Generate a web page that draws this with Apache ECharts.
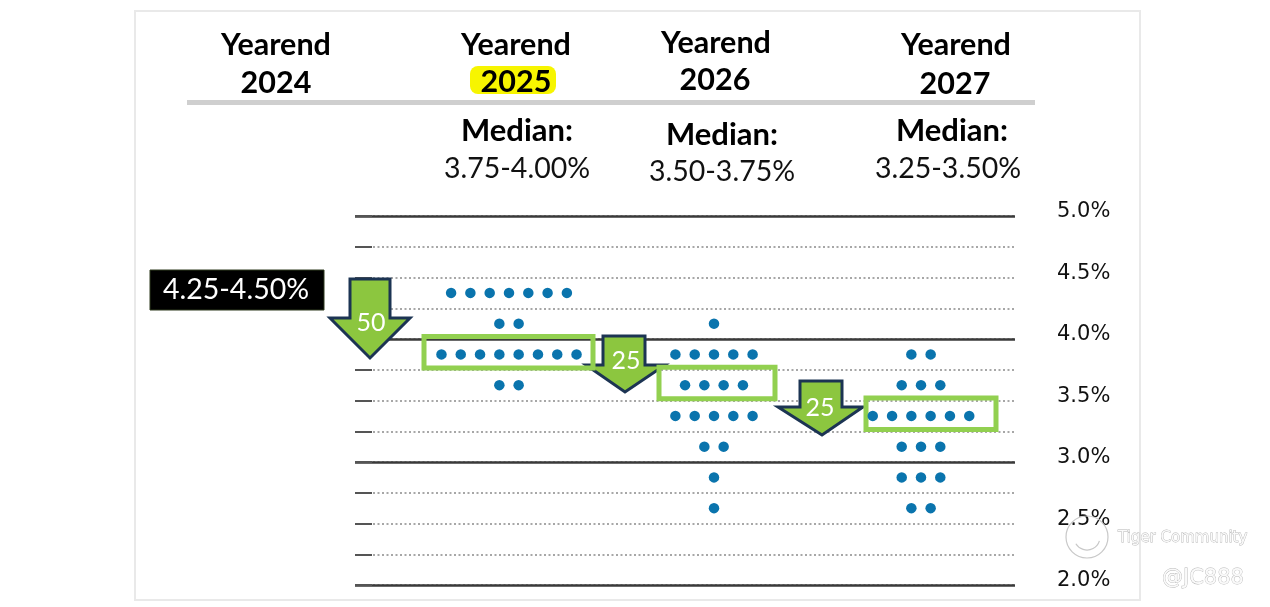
<!DOCTYPE html>
<html>
<head>
<meta charset="utf-8">
<script src="https://cdn.jsdelivr.net/npm/echarts@6/dist/echarts.min.js"></script>
<style>
html,body{margin:0;padding:0;background:#fff;}
#chart{width:1270px;height:607px;}
</style>
</head>
<body>
<div id="chart"></div>
<script>
// ---- data ----
const years = ['2025', '2026', '2027'];
const levels = [4.375, 4.125, 3.875, 3.625, 3.375, 3.125, 2.875, 2.625];
const counts2025 = [7, 2, 8, 2, 0, 0, 0, 0];
const counts2026 = [0, 1, 5, 4, 5, 2, 1, 1];
const counts2027 = [0, 0, 2, 3, 6, 3, 3, 2];
const medianLow = [3.75, 3.50, 3.25];
const medianHigh = [4.00, 3.75, 3.50];
const medianLabels = ['3.75-4.00%', '3.50-3.75%', '3.25-3.50%'];
const currentRate = '4.25-4.50%';
const cutLabels = ['50', '25', '25'];
const yTicks = [2.0, 2.5, 3.0, 3.5, 4.0, 4.5, 5.0];

// ---- layout (x axis in plot units) ----
const colCenter = [154, 359, 566];
const dotStep = 19.3;
const boxX = [[69, 238], [304, 420], [511, 641]];
const allCounts = [counts2025, counts2026, counts2027];

function dots(counts, cx) {
  const out = [];
  counts.forEach((n, li) => {
    for (let i = 0; i < n; i++) out.push([cx + (i - (n - 1) / 2) * dotStep, levels[li]]);
  });
  return out;
}

const chart = echarts.init(document.getElementById('chart'));
const FONT = 'Lato';
const green = '#92d050';

const series = years.map((y, k) => ({
  type: 'scatter',
  name: y,
  data: dots(allCounts[k], colCenter[k]),
  symbolSize: 10.5,
  itemStyle: { color: '#0a74ad', opacity: 1 },
  silent: true,
  z: 3,
  markArea: {
    silent: true,
    itemStyle: { color: 'rgba(0,0,0,0)', borderColor: green, borderWidth: 5 },
    data: [[{ coord: [boxX[k][0], medianHigh[k] + 0.02] }, { coord: [boxX[k][1], medianLow[k] + 0.015] }]]
  }
}));

function arrow(sl, sr, top, headY, hl, hr, tipX, tipY) {
  return [[sl, top], [sr, top], [sr, headY], [hr, headY], [tipX, tipY], [hl, headY], [sl, headY]];
}
const arrows = [
  { pts: arrow(350, 390, 279, 318, 330, 410, 370, 358), tx: 371, ty: 323 },
  { pts: arrow(603, 645, 336, 365, 586, 665, 625, 392), tx: 626, ty: 361 },
  { pts: arrow(800, 842, 381, 407, 778, 863, 822, 435), tx: 820, ty: 408 }
];

const graphics = [
  { type: 'rect', shape: { x: 135, y: 11, width: 1005, height: 589 }, style: { fill: 'none', stroke: '#e9e9e9', lineWidth: 2 }, z: -10, silent: true },
  { type: 'rect', shape: { x: 187, y: 100, width: 848, height: 5 }, style: { fill: '#cfcfcf' }, silent: true },
  { type: 'rect', shape: { x: 470, y: 66, width: 86, height: 28, r: 8 }, style: { fill: '#f7f500' }, silent: true },
  { type: 'rect', shape: { x: 150, y: 270, width: 174, height: 40 }, style: { fill: '#000', stroke: '#2f3a1f', lineWidth: 1 }, silent: true },
  { type: 'text', x: 236, y: 290, style: { text: currentRate, fill: '#fff', font: '28.5px ' + FONT, align: 'center', verticalAlign: 'middle' }, silent: true }
];

const headers = [
  { t: 'Yearend', x: 276, y: 45 }, { t: '2024', x: 276, y: 83 },
  { t: 'Yearend', x: 516, y: 45 }, { t: years[0], x: 516, y: 82 },
  { t: 'Yearend', x: 716, y: 43 }, { t: years[1], x: 715, y: 80 },
  { t: 'Yearend', x: 956, y: 45 }, { t: years[2], x: 955, y: 84 }
];
headers.forEach(h => graphics.push({ type: 'text', x: h.x, y: h.y, silent: true,
  style: { text: h.t, fill: '#000', font: 'bold 30.5px ' + FONT, align: 'center', verticalAlign: 'middle' } }));
const medHead = [[517, 131], [722, 135], [952, 131]];
medHead.forEach(p => graphics.push({ type: 'text', x: p[0], y: p[1], silent: true,
  style: { text: 'Median:', fill: '#000', font: 'bold 31px ' + FONT, align: 'center', verticalAlign: 'middle' } }));
const medPos = [[517, 169], [722, 172], [948, 169]];
medianLabels.forEach((m, k) => graphics.push({ type: 'text', x: medPos[k][0], y: medPos[k][1], silent: true,
  style: { text: m, fill: '#111', font: '28.5px ' + FONT, align: 'center', verticalAlign: 'middle' } }));

arrows.forEach((a, k) => {
  graphics.push({ type: 'polygon', shape: { points: a.pts }, style: { fill: '#8cc63f', stroke: '#1c3453', lineWidth: 3, lineJoin: 'miter' }, z: 1, silent: true });
  graphics.push({ type: 'text', x: a.tx, y: a.ty, z: 1, silent: true,
    style: { text: cutLabels[k], fill: '#fff', font: '25px ' + FONT, align: 'center', verticalAlign: 'middle' } });
});

// watermark
graphics.push({ type: 'circle', shape: { cx: 1087, cy: 537, r: 21 }, style: { fill: 'none', stroke: '#c8c8c8', lineWidth: 1.2 }, silent: true, z: 5 });
graphics.push({ type: 'arc', shape: { cx: 1087, cy: 537, r: 13, startAngle: 0.3, endAngle: 2.6 }, style: { fill: 'none', stroke: '#c8c8c8', lineWidth: 1.2 }, silent: true, z: 5 });
graphics.push({ type: 'text', x: 1118, y: 538, z: 5, silent: true,
  style: { text: 'Tiger Community', fill: '#fafafa', stroke: '#b5b5b5', lineWidth: 0.8, font: '15px "DejaVu Sans"', verticalAlign: 'middle' } });
graphics.push({ type: 'text', x: 1162, y: 579, z: 5, silent: true,
  style: { text: '@JC888', fill: '#fafafa', stroke: '#b5b5b5', lineWidth: 0.8, font: '21px "DejaVu Sans"', verticalAlign: 'middle' } });

chart.setOption({
  animation: false,
  backgroundColor: '#fff',
  grid: { left: 355, right: 255, top: 216, bottom: 22 },
  xAxis: { type: 'value', min: 0, max: 660, show: false },
  yAxis: [
    { type: 'value', min: 2, max: 5, interval: 0.25, position: 'left',
      axisLine: { show: false }, axisLabel: { show: false },
      axisTick: { show: true, inside: true, length: 17, lineStyle: { color: '#555', width: 2 } },
      splitLine: { show: true, lineStyle: { color: '#8a8a8a', width: 1.5, type: [2, 2.5] } } },
    { type: 'value', min: 2, max: 5, interval: 1, position: 'right',
      axisLine: { show: false }, axisLabel: { show: false }, axisTick: { show: false },
      splitLine: { show: true, lineStyle: { color: '#3a3a3a', width: 2.5 } } },
    { type: 'value', min: 2, max: 5, interval: 0.5, position: 'right',
      axisLine: { show: false }, axisTick: { show: false }, splitLine: { show: false },
      axisLabel: { show: true, margin: 42, color: '#111', fontSize: 21, fontFamily: 'DejaVu Sans', align: 'left',
        rich: { p: { fontSize: 21, fontFamily: 'DejaVu Sans', color: '#111', padding: [0, 0, 8, 0] } },
        formatter: v => yTicks.includes(v) ? '{p|' + v.toFixed(1) + '%}' : '' } }
  ],
  series: series,
  graphic: graphics
});
</script>
</body>
</html>
